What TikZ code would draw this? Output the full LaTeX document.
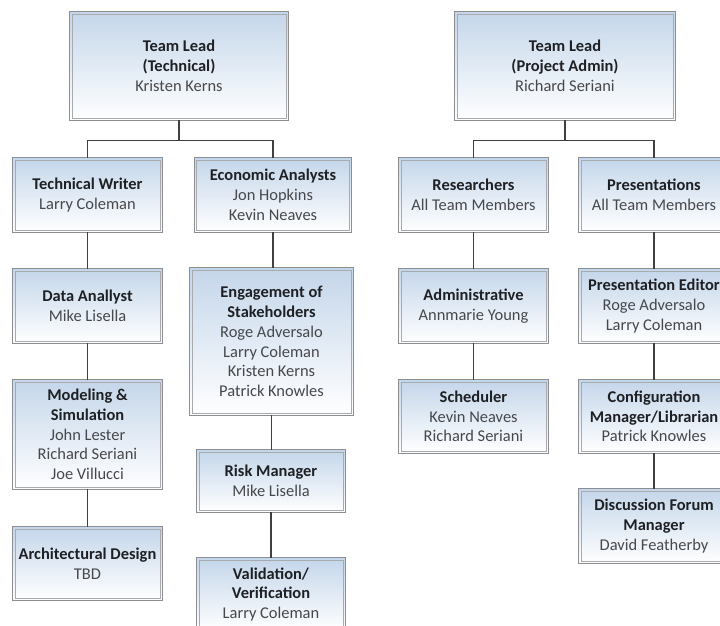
\documentclass[tikz,border=0pt]{standalone}
\usepackage{fontspec}
\setmainfont{Carlito}
\usepackage{xcolor}
\usepackage{tikz}
\usetikzlibrary{positioning, calc, shadings}
\definecolor{BoxTop}{RGB}{196,214,234}
\definecolor{BoxEdge}{RGB}{140,142,146}
\definecolor{TitleInk}{RGB}{30,32,36}
\definecolor{NameInk}{RGB}{70,72,76}
\definecolor{LinkGray}{RGB}{64,64,64}
\newcommand{\pname}[1]{\textcolor{NameInk}{#1}}
\tikzset{
  orgbox/.style={top color=BoxTop, bottom color=white, align=center, inner sep=2pt,
    font=\fontsize{16.5}{19.8}\selectfont, text=TitleInk, minimum width=#1},
  orgbox/.default={149bp},
  edgeout/.style={draw=BoxEdge, line width=0.9pt},
  edgein/.style={draw=BoxEdge!75, line width=0.6pt},
  link/.style={draw=LinkGray, line width=1.4pt},
}

\begin{document}
\begin{tikzpicture}[x=1bp, y=-1bp]
  \useasboundingbox (0,0) rectangle (720,626);
  \clip (0,0) rectangle (720,626);
  \fill[white] (0,0) rectangle (720,626);
  % technical branch
  \node[orgbox=218bp, minimum height=108bp] (tlT) at (179,66)
    {\textbf{Team Lead}\\\textbf{(Technical)}\\\pname{Kristen Kerns}};
  \node[orgbox, minimum height=74bp] (tw) at (87.5,195)
    {\textbf{Technical Writer}\\\pname{Larry Coleman}};
  \node[orgbox, minimum height=74bp] (da) at (87.5,306)
    {\textbf{Data Anallyst}\\\pname{Mike Lisella}};
  \node[orgbox, minimum height=109bp] (ms) at (87.5,434.5)
    {\textbf{Modeling \&}\\\textbf{Simulation}\\\pname{John Lester}\\\pname{Richard Seriani}\\\pname{Joe Villucci}};
  \node[orgbox, minimum height=73bp] (ad) at (87.5,563.5)
    {\textbf{Architectural Design}\\\pname{TBD}};
  \node[orgbox=157bp, minimum height=74bp] (ea) at (273,195)
    {\textbf{Economic Analysts}\\\pname{Jon Hopkins}\\\pname{Kevin Neaves}};
  \node[orgbox=163bp, minimum height=147bp] (es) at (271.5,341.5)
    {\textbf{Engagement of}\\\textbf{Stakeholders}\\\pname{Roge Adversalo}\\\pname{Larry Coleman}\\\pname{Kristen Kerns}\\\pname{Patrick Knowles}};
  \node[orgbox=148bp, minimum height=62bp] (rm) at (271,481)
    {\textbf{Risk Manager}\\\pname{Mike Lisella}};
  \node[orgbox=148bp, minimum height=73bp] (vv) at (271,594.5)
    {\textbf{Validation/}\\\textbf{Verification}\\\pname{Larry Coleman}};
  % admin branch
  \node[orgbox=220bp, minimum height=108bp] (tlA) at (565,66)
    {\textbf{Team Lead}\\\textbf{(Project Admin)}\\\pname{Richard Seriani}};
  \node[orgbox, minimum height=74bp] (res) at (473.5,195)
    {\textbf{Researchers}\\\pname{All Team Members}};
  \node[orgbox, minimum height=74bp] (adm) at (473.5,306)
    {\textbf{Administrative}\\\pname{Annmarie Young}};
  \node[orgbox, minimum height=73bp] (sch) at (473.5,416.5)
    {\textbf{Scheduler}\\\pname{Kevin Neaves}\\\pname{Richard Seriani}};
  \node[orgbox=150bp, minimum height=74bp] (pres) at (654,195)
    {\textbf{Presentations}\\\pname{All Team Members}};
  \node[orgbox=150bp, minimum height=74bp] (pe) at (654,306)
    {\textbf{Presentation Editor}\\\pname{Roge Adversalo}\\\pname{Larry Coleman}};
  \node[orgbox=150bp, minimum height=73bp] (cm) at (654,416.5)
    {\textbf{Configuration}\\\textbf{Manager/Librarian}\\\pname{Patrick Knowles}};
  \node[orgbox=150bp, minimum height=74bp] (dfm) at (654,526)
    {\textbf{Discussion Forum}\\\textbf{Manager}\\\pname{David Featherby}};
  % double frames
  \foreach \n in {tlT, tw, da, ms, ad, ea, es, rm, vv, tlA, res, adm, sch, pres, pe, cm, dfm} {
    \draw[edgeout] (\n.south west) rectangle (\n.north east);
    \draw[edgein] ($(\n.south west)+(2.2,-2.2)$) rectangle ($(\n.north east)+(-2.2,2.2)$);
  }
  % connectors
  \draw[link] (tlT.south) -- ++(0,20) -| (tw.north);
  \draw[link] (tlT.south) -- ++(0,20) -| (ea.north);
  \draw[link] (tlA.south) -- ++(0,20) -| (res.north);
  \draw[link] (tlA.south) -- ++(0,20) -| (pres.north);
  \foreach \a/\b in {tw/da, da/ms, ms/ad, ea/es, es/rm, rm/vv, res/adm, adm/sch, pres/pe, pe/cm, cm/dfm}
    \draw[link] (\a.south) -- (\a.south |- \b.north);
\end{tikzpicture}
\end{document}
